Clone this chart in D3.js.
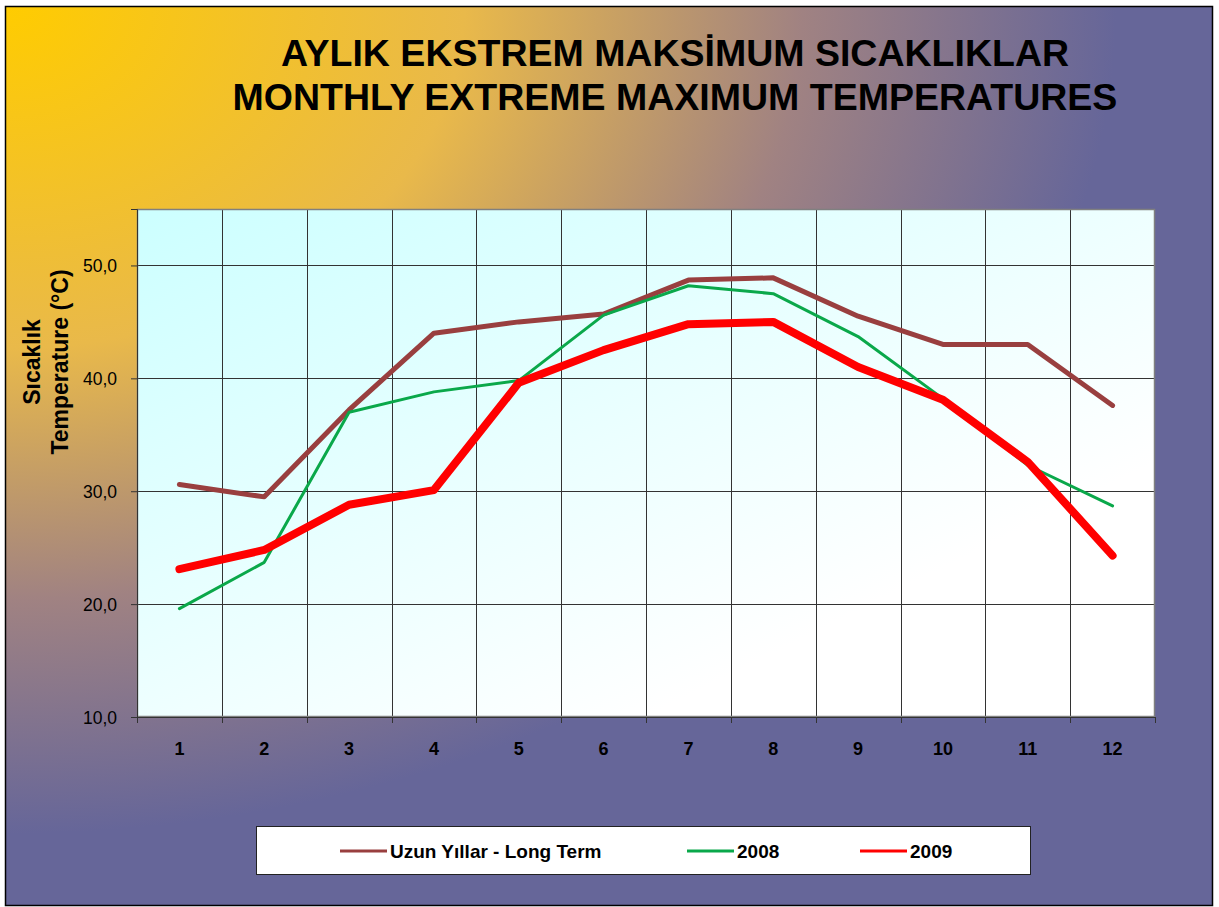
<!DOCTYPE html>
<html><head><meta charset="utf-8">
<script src="https://cdn.jsdelivr.net/npm/d3@7"></script>
<style>html,body{margin:0;padding:0;background:#fff;}svg{display:block;font-family:"Liberation Sans",Arial,sans-serif;}</style>
</head><body>
<svg id="c" width="1219" height="907"></svg>
<script>
const months = [1,2,3,4,5,6,7,8,9,10,11,12];
const longTerm = [30.6,29.5,37.2,44.0,45.0,45.7,48.7,48.9,45.5,43.0,43.0,37.6];
const y2008 = [19.6,23.7,37.0,38.8,39.8,45.6,48.2,47.5,43.7,38.2,32.3,28.7];
const y2009 = [23.1,24.8,28.8,30.1,39.6,42.5,44.8,45.0,41.0,38.1,32.6,24.3];
const yTicks = [10,20,30,40,50];
const titleLines = ["AYLIK EKSTREM MAKSİMUM SICAKLIKLAR","MONTHLY EXTREME MAXIMUM TEMPERATURES"];
const yTitle = ["Sıcaklık","Temperature (°C)"];
const seriesNames = ["Uzun Yıllar - Long Term","2008","2009"];

const svg = d3.select("#c");
const defs = svg.append("defs");
const bg = defs.append("radialGradient").attr("id","bg").attr("cx",0).attr("cy",0).attr("r",1).attr("fx",0).attr("fy",0);
bg.append("stop").attr("offset",0).attr("stop-color","#ffcc00");
bg.append("stop").attr("offset",0.38).attr("stop-color","#e9b94a");
bg.append("stop").attr("offset",0.66).attr("stop-color","#a08282");
bg.append("stop").attr("offset",0.92).attr("stop-color","#666699");
bg.append("stop").attr("offset",1).attr("stop-color","#666699");
const pg = defs.append("linearGradient").attr("id","pg").attr("x1",0).attr("y1",0).attr("x2",1).attr("y2",1);
pg.append("stop").attr("offset",0).attr("stop-color","#ccffff");
pg.append("stop").attr("offset",0.75).attr("stop-color","#ffffff");

svg.append("rect").attr("x",0).attr("y",0).attr("width",1219).attr("height",907).attr("fill","#fff");
svg.append("rect").attr("x",5.5).attr("y",6.5).attr("width",1207).attr("height",899).attr("fill","url(#bg)").attr("stroke","#000").attr("stroke-width",1.5);

svg.append("g").selectAll("text").data(titleLines).join("text")
  .attr("x",675).attr("y",(d,i)=>66+i*44).attr("text-anchor","middle")
  .attr("font-size",37.5).attr("font-weight","bold").attr("fill","#000").text(d=>d);

const L=137, R=1155, T=209, B=717;
const x = d3.scaleBand().domain(months).range([L,R]);
const y = d3.scaleLinear().domain([10,55]).range([B,T]);

svg.append("rect").attr("x",L).attr("y",T).attr("width",R-L).attr("height",B-T).attr("fill","url(#pg)");

// gridlines
const g = svg.append("g");
g.selectAll("line.h").data(yTicks.slice(1)).join("line").attr("class","h")
  .attr("x1",L).attr("x2",R).attr("y1",d=>Math.round(y(d))+0.5).attr("y2",d=>Math.round(y(d))+0.5)
  .attr("stroke","#333").attr("stroke-width",1);
g.selectAll("line.v").data(months.slice(1)).join("line").attr("class","v")
  .attr("x1",d=>Math.round(x(d))+0.5).attr("x2",d=>Math.round(x(d))+0.5).attr("y1",T).attr("y2",B)
  .attr("stroke","#333").attr("stroke-width",1);
svg.append("rect").attr("x",L+0.5).attr("y",T+0.5).attr("width",R-L-1).attr("height",B-T-1)
  .attr("fill","none").attr("stroke","#808080").attr("stroke-width",1.5);

// axes
const yAxis = d3.axisLeft(y).tickValues(yTicks).tickSize(6).tickPadding(14).tickFormat(d=>d3.format(".1f")(d).replace(".",","));
const ya = svg.append("g").attr("transform",`translate(${L},0)`).call(yAxis);
ya.select(".domain").attr("stroke","#333");
ya.selectAll(".tick line").attr("stroke","#333");
ya.selectAll("text").attr("font-size",17.5).attr("font-family","Liberation Sans, Arial").attr("fill","#000").attr("dy","0.36em");

const xEdge = d3.scaleLinear().domain([0,12]).range([L,R]);
const xa = svg.append("g");
xa.append("line").attr("x1",L).attr("x2",R).attr("y1",B+0.5).attr("y2",B+0.5).attr("stroke","#333");
xa.selectAll("line.t").data(d3.range(13)).join("line").attr("class","t")
  .attr("x1",d=>Math.round(xEdge(d))+0.5).attr("x2",d=>Math.round(xEdge(d))+0.5).attr("y1",B).attr("y2",B+6).attr("stroke","#333");
xa.selectAll("text").data(months).join("text")
  .attr("x",d=>x(d)+x.bandwidth()/2).attr("y",755).attr("text-anchor","middle")
  .attr("font-size",18).attr("font-weight","bold").attr("fill","#000").text(d=>d);

// y title
svg.append("g").attr("transform","translate(0,362)").selectAll("text").data(yTitle).join("text")
  .attr("transform",(d,i)=>`translate(${40+i*28},0) rotate(-90)`).attr("text-anchor","middle")
  .attr("font-size",23).attr("font-weight","bold").attr("fill","#000").text(d=>d);

// lines
const series = [
  {name:seriesNames[0], values:longTerm, color:"#993f3f", width:5},
  {name:seriesNames[1], values:y2008, color:"#0aa84a", width:3},
  {name:seriesNames[2], values:y2009, color:"#ff0000", width:8}
];
const line = d3.line().x((d,i)=>x(months[i])+x.bandwidth()/2).y(d=>y(d));
svg.append("g").selectAll("path").data(series).join("path")
  .attr("d",d=>line(d.values)).attr("fill","none").attr("stroke",d=>d.color)
  .attr("stroke-width",d=>d.width).attr("stroke-linejoin","round").attr("stroke-linecap","round");

// legend
svg.append("rect").attr("x",256.5).attr("y",826.5).attr("width",774).attr("height",48)
  .attr("fill","#fff").attr("stroke","#222").attr("stroke-width",1);
const lx=[340,687,860];
const lg = svg.append("g").selectAll("g").data(series).join("g").attr("transform",(d,i)=>`translate(${lx[i]},851)`);
lg.append("line").attr("x1",0).attr("x2",47).attr("y1",0).attr("y2",0).attr("stroke",d=>d.color).attr("stroke-width",3);
lg.append("text").attr("x",50).attr("y",7).attr("font-size",19).attr("font-weight","bold").attr("fill","#000").text(d=>d.name);
</script>
</body></html>
